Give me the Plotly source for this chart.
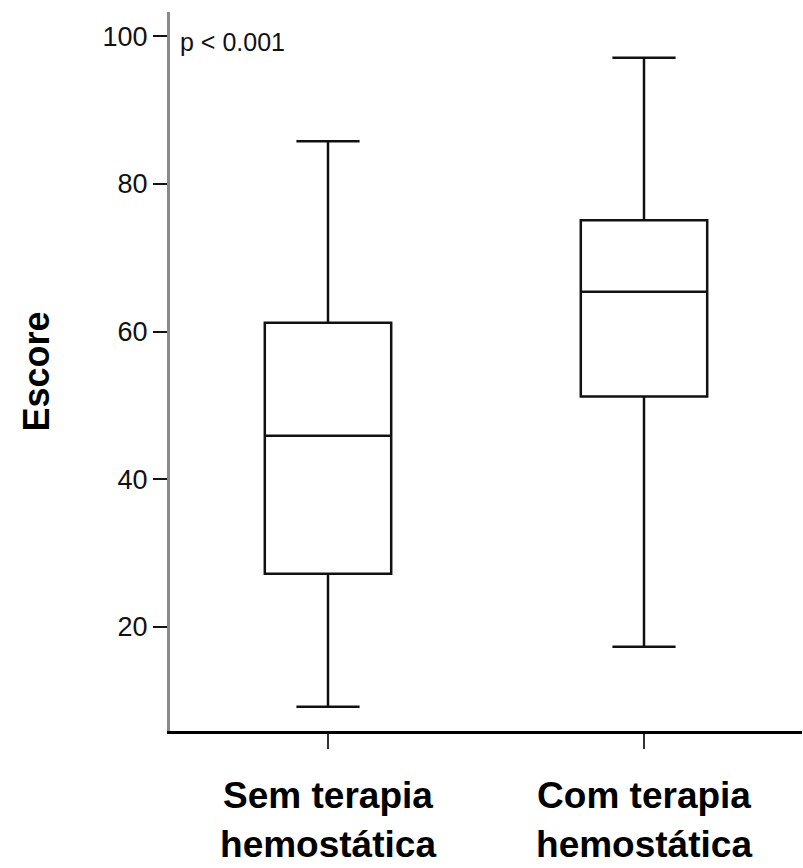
import plotly.graph_objects as go

# Summary statistics of the score for each group
groups = ["Sem terapia<br>hemostática", "Com terapia<br>hemostática"]
lower_whisker = [9.2, 17.3]
q1 = [27.2, 51.2]
median = [45.9, 65.4]
q3 = [61.2, 75.1]
upper_whisker = [85.8, 97.1]

y_ticks = [20, 40, 60, 80, 100]
p_text = "p < 0.001"

font_family = "Liberation Sans, Arial, sans-serif"

fig = go.Figure()
fig.add_trace(go.Box(
    x=groups,
    q1=q1,
    median=median,
    q3=q3,
    lowerfence=lower_whisker,
    upperfence=upper_whisker,
    width=0.4,
    whiskerwidth=0.5,
    fillcolor="white",
    line=dict(color="#111111", width=2.5),
    boxpoints=False,
    showlegend=False,
    hoverinfo="skip",
))

fig.add_annotation(
    x=0.012, xref="paper",
    y=99.2, yref="y",
    text=p_text,
    showarrow=False,
    xanchor="left", yanchor="middle",
    font=dict(family=font_family, size=25, color="#111111"),
)

fig.update_layout(
    width=803,
    height=868,
    margin=dict(l=170, r=1, t=12, b=137),
    paper_bgcolor="white",
    plot_bgcolor="white",
    font=dict(family=font_family, color="#111111"),
)

fig.update_xaxes(
    type="category",
    range=[-0.5, 1.5],
    automargin=False,
    showline=True,
    linecolor="black",
    linewidth=3,
    ticks="outside",
    ticklen=15,
    tickwidth=2,
    tickcolor="#333333",
    ticklabelstandoff=15,
    tickfont=dict(family=font_family, size=37, color="black", weight="bold"),
    showgrid=False,
    zeroline=False,
)

fig.update_yaxes(
    range=[5.9, 103.3],
    automargin=False,
    tickvals=y_ticks,
    showline=True,
    linecolor="#8a8a8a",
    linewidth=3,
    ticks="outside",
    ticklen=14,
    tickwidth=2,
    tickcolor="#111111",
    tickfont=dict(family=font_family, size=27, color="#111111"),
    showgrid=False,
    zeroline=False,
    title=dict(
        text="Escore",
        font=dict(family=font_family, size=36, color="black", weight="bold"),
        standoff=42,
    ),
)

fig.write_html("out.html")
